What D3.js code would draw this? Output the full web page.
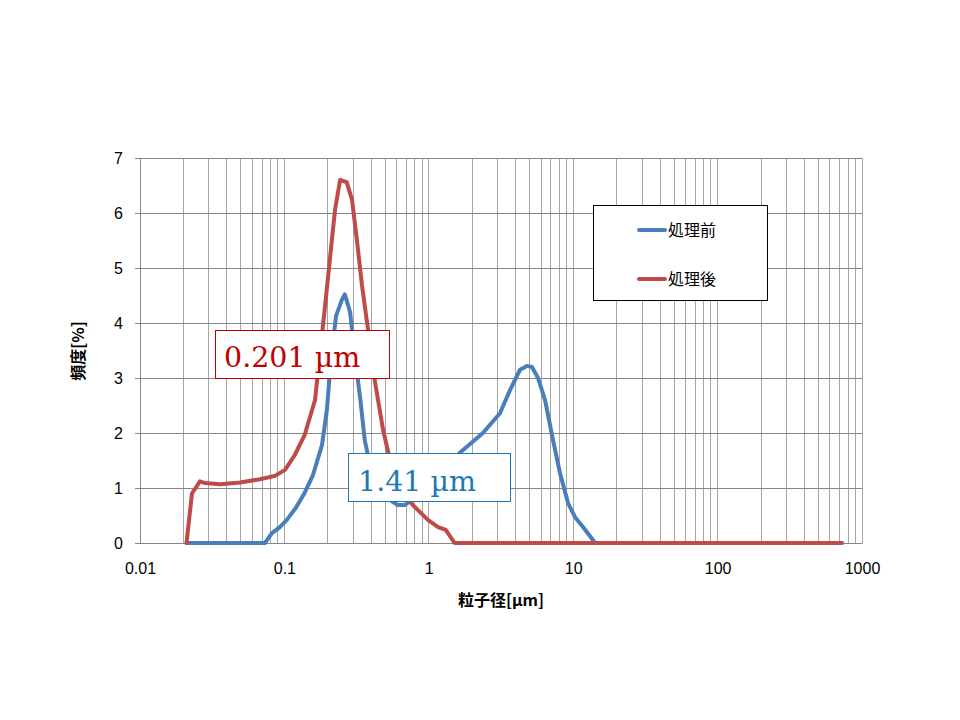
<!DOCTYPE html>
<html><head><meta charset="utf-8">
<script src="https://cdn.jsdelivr.net/npm/d3@7"></script>
<style>body{margin:0;background:#fff;}svg{display:block;}</style>
</head><body>
<svg id="c" width="960" height="720"></svg>
<script>
const seriesNames = ["処理前", "処理後"];
const colors = ["#4A7EBB", "#BE4B48"];
const beforeX = [0.021, 0.0733, 0.082, 0.093, 0.104, 0.12, 0.138, 0.158, 0.182, 0.197, 0.21, 0.228, 0.25, 0.262, 0.285, 0.31, 0.336, 0.36, 0.405, 0.46, 0.54, 0.61, 0.68, 0.8, 0.94, 1.2, 1.64, 2.37, 3.11, 3.65, 4.28, 4.78, 5.18, 5.71, 6.38, 7.25, 8.1, 9.2, 10.3, 11.7, 14.2, 725];
const beforeY = [0, 0, 0.18, 0.29, 0.42, 0.64, 0.91, 1.24, 1.78, 2.42, 3.33, 4.13, 4.42, 4.52, 4.2, 3.33, 2.6, 1.87, 1.24, 0.96, 0.78, 0.69, 0.69, 0.82, 0.96, 1.24, 1.64, 2.0, 2.36, 2.78, 3.15, 3.22, 3.2, 3.0, 2.6, 1.87, 1.27, 0.73, 0.47, 0.29, 0, 0];
const afterX = [0.021, 0.0229, 0.026, 0.0282, 0.0358, 0.0493, 0.0677, 0.086, 0.101, 0.118, 0.138, 0.163, 0.19, 0.224, 0.243, 0.27, 0.294, 0.318, 0.344, 0.38, 0.411, 0.445, 0.483, 0.54, 0.63, 0.776, 0.985, 1.16, 1.31, 1.51, 725];
const afterY = [0, 0.9, 1.12, 1.09, 1.07, 1.1, 1.16, 1.22, 1.33, 1.6, 1.96, 2.6, 4.24, 6.05, 6.6, 6.56, 6.24, 5.5, 4.7, 3.87, 3.15, 2.6, 2.05, 1.5, 0.96, 0.69, 0.42, 0.29, 0.24, 0, 0];
const xTicks = [0.01, 0.1, 1, 10, 100, 1000];
const xTickLabels = ["0.01", "0.1", "1", "10", "100", "1000"];
const yTicks = [0, 1, 2, 3, 4, 5, 6, 7];
const annotations = [
  {text: "0.201 µm", color: "#C00000"},
  {text: "1.41 µm", color: "#1F77B4"}
];

const svg = d3.select("#c");
const L = 140, R = 862, T = 158, B = 543;
const x = d3.scaleLog().domain([0.01, 1000]).range([L, R]);
const y = d3.scaleLinear().domain([0, 7]).range([B, T]);
const sans = "'Liberation Sans', 'Noto Sans CJK JP', sans-serif";
const cjk = "'Noto Sans CJK JP', sans-serif";

// vertical grid (minor log lines)
const minor = [];
for (let e = -2; e < 3; e++) for (let m = 1; m <= 9; m++) minor.push(m * Math.pow(10, e));
minor.push(1000);
svg.append("g").selectAll("line").data(minor).join("line")
  .attr("x1", d => x(d)).attr("x2", d => x(d)).attr("y1", T).attr("y2", B)
  .attr("stroke", "#A6A6A6").attr("stroke-width", 1).attr("shape-rendering", "crispEdges");
// horizontal grid
svg.append("g").selectAll("line").data(yTicks).join("line")
  .attr("x1", L).attr("x2", R).attr("y1", d => y(d)).attr("y2", d => y(d))
  .attr("stroke", "#868686").attr("stroke-width", 1).attr("shape-rendering", "crispEdges");

// y axis
const yAxis = d3.axisLeft(y).tickValues(yTicks).tickSize(5).tickPadding(12).tickFormat(d3.format("d"));
const gy = svg.append("g").attr("transform", `translate(${L},0)`).call(yAxis);
gy.select(".domain").attr("stroke", "#868686");
gy.selectAll(".tick line").attr("stroke", "#868686");
gy.selectAll("text").attr("font-family", sans).attr("font-size", 16).attr("fill", "#000");

// x axis
const xAxis = d3.axisBottom(x).tickValues(xTicks).tickSize(0).tickPadding(20)
  .tickFormat((d, i) => xTickLabels[i]);
const gx = svg.append("g").attr("transform", `translate(0,${B})`).call(xAxis);
gx.select(".domain").attr("stroke", "#868686");
gx.selectAll("text").attr("font-family", sans).attr("font-size", 16).attr("fill", "#000");

// lines
const line = d3.line().x(d => x(d[0])).y(d => y(d[1]));
const data = [d3.zip(beforeX, beforeY), d3.zip(afterX, afterY)];
svg.append("g").selectAll("path").data(data).join("path")
  .attr("d", line).attr("fill", "none")
  .attr("stroke", (d, i) => colors[i]).attr("stroke-width", 4)
  .attr("stroke-linejoin", "round").attr("stroke-linecap", "round");

// axis titles
svg.append("text").attr("x", (L + R) / 2).attr("y", 606).attr("text-anchor", "middle")
  .attr("font-family", cjk).attr("font-weight", "bold").attr("font-size", 16).text("粒子径[µm]");
svg.append("text").attr("transform", "translate(84,351) rotate(-90)").attr("text-anchor", "middle")
  .attr("font-family", cjk).attr("font-weight", "bold").attr("font-size", 16).text("頻度[%]");

// legend
const lg = svg.append("g");
lg.append("rect").attr("x", 593.5).attr("y", 205.5).attr("width", 174).attr("height", 95)
  .attr("fill", "#fff").attr("stroke", "#000").attr("stroke-width", 1);
seriesNames.forEach((n, i) => {
  const yy = 230 + i * 49;
  lg.append("line").attr("x1", 639).attr("x2", 665).attr("y1", yy).attr("y2", yy)
    .attr("stroke", colors[i]).attr("stroke-width", 4).attr("stroke-linecap", "round");
  lg.append("text").attr("x", 668).attr("y", yy + 6).attr("font-family", cjk)
    .attr("font-size", 16).text(n);
});

// annotation boxes
const boxes = [{x: 215.5, y: 330.5, w: 174, h: 48, tx: 224, ty: 367}, {x: 348.5, y: 453.5, w: 162, h: 48, tx: 358, ty: 491}];
annotations.forEach((a, i) => {
  const b = boxes[i];
  svg.append("rect").attr("x", b.x).attr("y", b.y).attr("width", b.w).attr("height", b.h)
    .attr("fill", "#fff").attr("stroke", a.color).attr("stroke-width", 1);
  svg.append("text").attr("x", b.tx).attr("y", b.ty).attr("font-family", "'DejaVu Serif', 'Liberation Serif', serif")
    .attr("font-size", 28.5).attr("fill", a.color).text(a.text);
});
</script>
</body></html>
